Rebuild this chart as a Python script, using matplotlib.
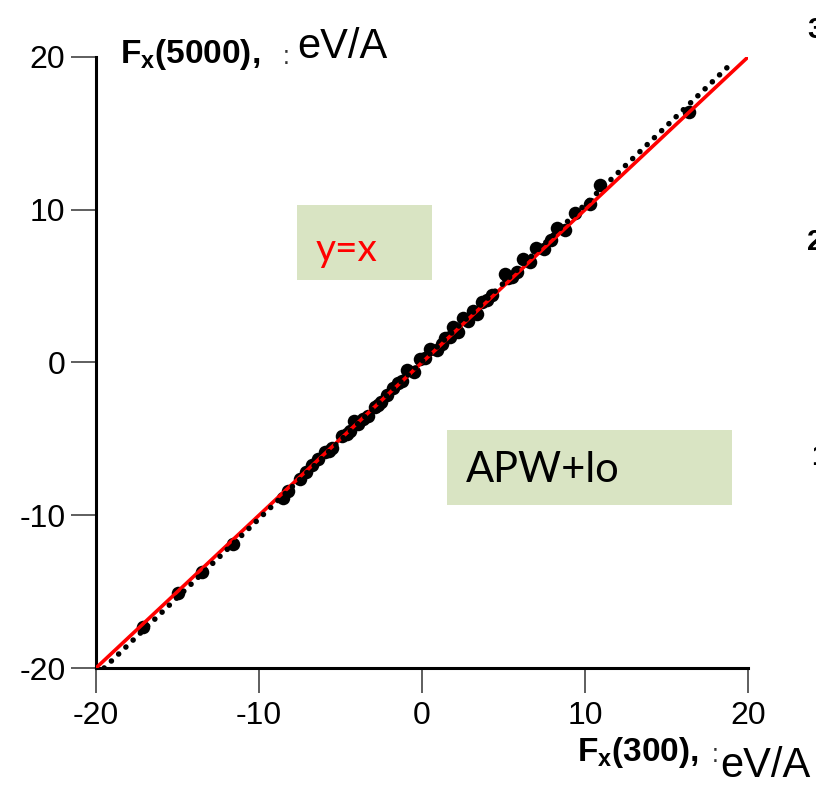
import matplotlib
matplotlib.use("Agg")
from matplotlib import pyplot as plt
from matplotlib.patches import Rectangle

# forces computed with two basis sizes (eV/A)
fx_300 = [-17.1, -15.0, -13.5, -11.6, -8.5, -8.2, -7.5, -7.1, -6.75, -6.4,
          -5.95, -5.7, -5.5, -4.9, -4.6, -4.4, -4.2, -3.9, -3.6, -3.3, -2.9,
          -2.7, -2.5, -2.15, -1.8, -1.5, -1.2, -0.9, -0.5, -0.1, 0.2, 0.5,
          0.9, 1.2, 1.4, 1.7, 1.9, 2.2, 2.5, 2.8, 3.1, 3.4, 3.7, 4.0, 4.3,
          5.1, 5.3, 5.5, 5.8, 6.2, 6.6, 7.0, 7.5, 7.9, 8.3, 8.8, 9.4, 10.3,
          10.9, 16.4]
fx_5000 = [-17.3, -15.1, -13.7, -11.9, -8.9, -8.4, -7.6, -7.2, -6.7, -6.3,
           -5.85, -5.8, -5.6, -4.8, -4.7, -4.5, -3.8, -4.0, -3.7, -3.5, -2.9,
           -2.8, -2.6, -2.1, -1.7, -1.35, -1.2, -0.5, -0.6, 0.2, 0.3, 0.9,
           0.8, 1.2, 1.6, 1.7, 2.3, 2.0, 2.9, 2.7, 3.4, 3.2, 3.95, 4.1, 4.4,
           5.8, 5.5, 5.6, 5.9, 6.8, 6.6, 7.5, 7.4, 8.0, 8.8, 8.7, 9.8, 10.4,
           11.6, 16.4]

# dotted fit line end points and the y=x reference
fit_x = [-19.5, 19.1]
fit_y = [-20.0, 19.7]
ref = [-20, 20]

ticks = [-20, -10, 0, 10, 20]

plt.rcParams['font.family'] = ['Liberation Sans', 'DejaVu Sans']
plt.rcParams['mathtext.fontset'] = 'custom'
plt.rcParams['mathtext.bf'] = 'Liberation Sans:bold'
plt.rcParams['mathtext.rm'] = 'Liberation Sans'

fig = plt.figure(figsize=(8.16, 7.87), dpi=100)
ax = fig.add_axes([96/816, 1 - 668/787, 652/816, 611/787])

ax.scatter(fx_300, fx_5000, s=95, color="black", zorder=2, linewidths=0)
ax.plot(ref, ref, color="red", lw=2.6, zorder=3, solid_capstyle="round")
ax.plot(fit_x, fit_y, color="black", lw=4, dashes=(0.01, 1.8),
        dash_capstyle="round", zorder=4)

ax.set_xlim(-20, 20)
ax.set_ylim(-20, 20)
ax.set_xticks(ticks)
ax.set_yticks(ticks)
ax.set_xticklabels([str(t) for t in ticks])
ax.set_yticklabels([str(t) for t in ticks])
for side in ["top", "right"]:
    ax.spines[side].set_visible(False)
for side in ["left", "bottom"]:
    ax.spines[side].set_linewidth(2.2)
ax.tick_params(direction="out", length=18, width=1.1, color="#333333",
               labelsize=23)
ax.tick_params(axis="x", pad=6)
ax.tick_params(axis="y", pad=4)

# green label boxes
ax.add_patch(Rectangle((-7.67, 5.40), 8.28, 4.91, facecolor="#d9e4c3",
                       edgecolor="none", zorder=1))
ax.text(-6.5, 7.37, "y=x", color="red", fontsize=28, va="center",
        family=["Lato", "DejaVu Sans"])
ax.add_patch(Rectangle((1.53, -9.33), 17.49, 4.91, facecolor="#d9e4c3",
                       edgecolor="none", zorder=1))
ax.text(2.7, -7.04, "APW+lo", color="black", fontsize=30, va="center",
        family=["Lato", "DejaVu Sans"])

# axis titles in the corners
fig.text(120/816, 1 - 54/787, r"$\mathbf{F_x(5000),}$", fontsize=24,
         va="center", fontweight="bold")
fig.text(283/816, 1 - 57/787, ":", fontsize=18, va="center", color="#333333")
fig.text(297/816, 1 - 47/787, "eV/A", fontsize=30, va="center")
fig.text(577/816, 1 - 752/787, r"$\mathbf{F_x(300),}$", fontsize=24,
         va="center", fontweight="bold")
fig.text(712/816, 1 - 755/787, ":", fontsize=18, va="center", color="#333333")
fig.text(720/816, 1 - 766/787, "eV/A", fontsize=30, va="center")

# edge of the next panel
fig.text(807/816, 1 - 30/787, "3", fontsize=21, va="center", fontweight="bold")
fig.text(807/816, 1 - 242/787, "2", fontsize=21, va="center", fontweight="bold")
fig.text(811/816, 1 - 457/787, "1", fontsize=21, va="center", fontweight="bold")

plt.savefig("out.png", dpi=100)
